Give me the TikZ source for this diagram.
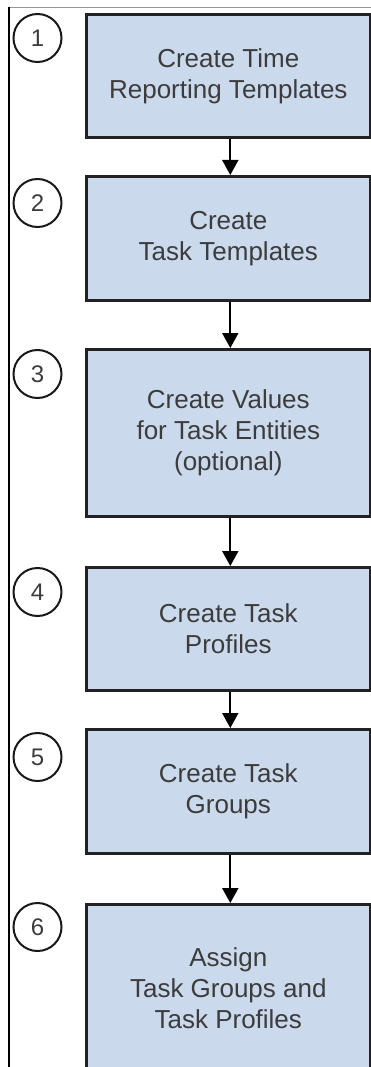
\documentclass[tikz,border=0pt]{standalone}
\usepackage{fontspec}
\setmainfont{Liberation Sans}
\usetikzlibrary{arrows.meta}
\definecolor{boxfill}{RGB}{203,217,236}
\definecolor{boxline}{RGB}{34,34,34}
\definecolor{txtgray}{RGB}{60,60,60}
\definecolor{topgray}{RGB}{150,150,150}
\tikzset{
  stepbox/.style={draw=boxline, fill=boxfill, line width=2.6pt, anchor=north west,
    minimum width=284pt, align=center, text=txtgray, inner sep=0pt,
    font=\fontsize{26}{31}\selectfont},
  numcirc/.style={draw=black!90, line width=2pt, circle, minimum size=48pt, inner sep=0pt,
    text=txtgray, font=\fontsize{24}{24}\selectfont},
  flow/.style={draw=black, line width=2pt, -{Triangle[width=16pt,length=15pt]}},
}
\begin{document}
\begin{tikzpicture}[x=1pt,y=-1pt]
\useasboundingbox (0,0) rectangle (371,1067);
\clip (0,0) rectangle (371,1067);
\draw[topgray, line width=1.3pt] (9,7.5) coordinate (tl) -- (372,7.5) coordinate (tr);
\draw[black, line width=1.3pt] (tl) -- (9,1070) coordinate (bl);

\node[stepbox, minimum height=123pt] (b1) at (85,13) {Create Time\\Reporting Templates};
\node[stepbox, minimum height=124pt] (b2) at (85,175) {Create\\Task Templates};
\node[stepbox, minimum height=167pt] (b3) at (85,348) {Create Values\\for Task Entities\\(optional)};
\node[stepbox, minimum height=123pt] (b4) at (85,566) {Create Task\\Profiles};
\node[stepbox, minimum height=124pt] (b5) at (85,728) {Create Task\\Groups};
\node[stepbox, minimum height=167pt] (b6) at (85,903) {Assign\\Task Groups and\\Task Profiles};

\node[numcirc] (c1) at (37.5,38) {1};
\node[numcirc] (c2) at (37.5,203) {2};
\node[numcirc] (c3) at (37.5,374) {3};
\node[numcirc] (c4) at (37.5,592) {4};
\node[numcirc] (c5) at (37.5,757) {5};
\node[numcirc] (c6) at (37.5,927) {6};

\draw[flow] ([xshift=2pt]b1.south) -- ([xshift=2pt]b2.north);
\draw[flow] ([xshift=2pt]b2.south) -- ([xshift=2pt]b3.north);
\draw[flow] ([xshift=2pt]b3.south) -- ([xshift=2pt]b4.north);
\draw[flow] ([xshift=2pt]b4.south) -- ([xshift=2pt]b5.north);
\draw[flow] ([xshift=2pt]b5.south) -- ([xshift=2pt]b6.north);
\end{tikzpicture}
\end{document}
